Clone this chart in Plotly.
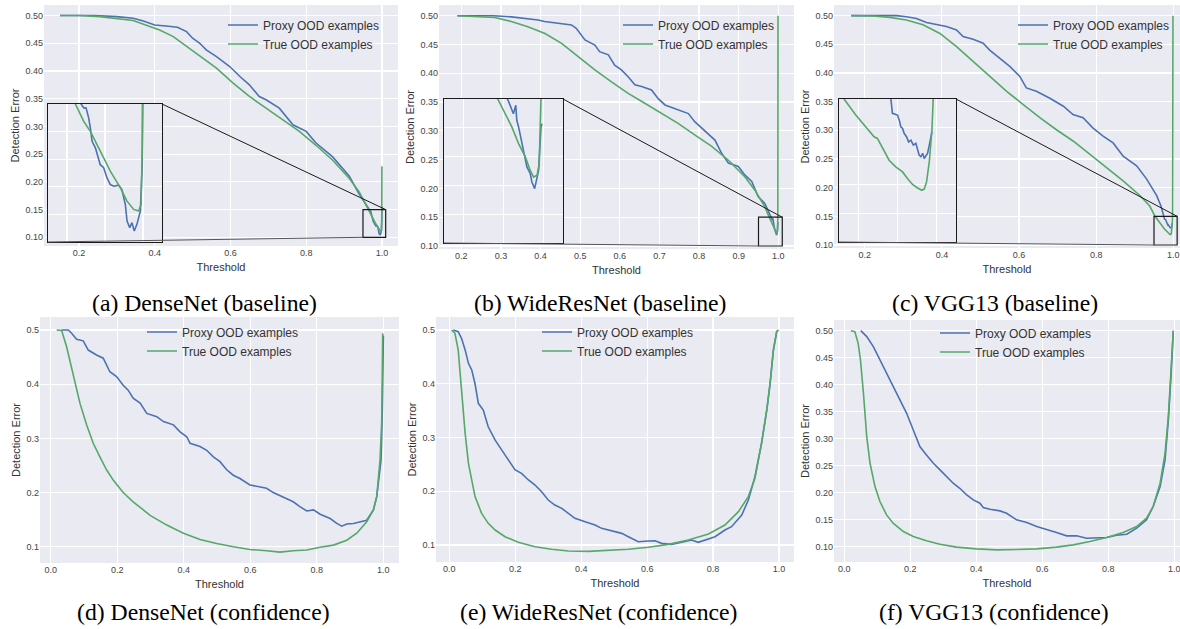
import plotly.graph_objects as go

W, H = 1180, 629
BLUE = "#4C72B0"
GREEN = "#55A868"
BG = "#EAEAF2"
SANS = "Liberation Sans"
SERIF = "Liberation Serif"

SERIES_NAMES = ["Proxy OOD examples", "True OOD examples"]
CAPTIONS = ["(a) DenseNet (baseline)", "(b) WideResNet (baseline)", "(c) VGG13 (baseline)",
            "(d) DenseNet (confidence)", "(e) WideResNet (confidence)", "(f) VGG13 (confidence)"]
X_TITLE = "Threshold"
Y_TITLE = "Detection Error"

# ---------------- (a) DenseNet baseline ----------------
a_proxy_x = [0.15, 0.24, 0.30, 0.343, 0.37, 0.40, 0.43, 0.46, 0.484, 0.50, 0.519, 0.536, 0.563, 0.598,
             0.625, 0.65, 0.676, 0.694, 0.729, 0.765, 0.80, 0.826, 0.870, 0.914, 0.94, 0.9674, 0.9688,
             0.970, 0.9714, 0.9723, 0.9732, 0.975, 0.9758, 0.9775, 0.9793, 0.9802, 0.981, 0.9828,
             0.9846, 0.9872, 0.9889, 0.9907, 0.9916, 0.993, 0.9942, 0.9954, 0.9968, 0.9986, 0.9996, 1.0]
a_proxy_y = [0.5, 0.5, 0.498, 0.495, 0.49, 0.483, 0.481, 0.479, 0.471, 0.459, 0.45, 0.438, 0.426, 0.408,
             0.39, 0.375, 0.354, 0.348, 0.333, 0.303, 0.291, 0.27, 0.245, 0.21, 0.178, 0.150, 0.1486,
             0.1486, 0.145, 0.1413, 0.1365, 0.134, 0.1323, 0.128, 0.1269, 0.1245, 0.1233, 0.1208,
             0.1202, 0.1206, 0.119, 0.1136, 0.1076, 0.1052, 0.107, 0.104, 0.1064, 0.1112, 0.128, 0.155]
a_true_x = [0.15, 0.2, 0.255, 0.299, 0.343, 0.387, 0.413, 0.449, 0.484, 0.519, 0.563, 0.607, 0.65, 0.694,
            0.738, 0.782, 0.826, 0.870, 0.914, 0.94, 0.9644, 0.9688, 0.9723, 0.9775, 0.9828, 0.9881,
            0.9916, 0.9951, 0.9977, 0.999, 0.9996, 1.0]
a_true_y = [0.5, 0.5, 0.498, 0.495, 0.491, 0.48, 0.474, 0.462, 0.444, 0.426, 0.405, 0.378, 0.354, 0.333,
            0.312, 0.291, 0.266, 0.239, 0.206, 0.182, 0.15, 0.1437, 0.1401, 0.1329, 0.1257, 0.1196,
            0.1148, 0.1118, 0.1112, 0.1136, 0.134, 0.228]

# ---------------- (b) WideResNet baseline ----------------
b_proxy_x = [0.19, 0.28, 0.326, 0.368, 0.394, 0.41, 0.453, 0.478, 0.49, 0.5, 0.512, 0.537, 0.549, 0.571,
             0.587, 0.604, 0.621, 0.638, 0.655, 0.68, 0.697, 0.714, 0.739, 0.773, 0.789, 0.815, 0.84,
             0.857, 0.874, 0.899, 0.916, 0.933, 0.949, 0.966, 0.979, 0.982, 0.983, 0.985, 0.9862,
             0.9867, 0.9876, 0.9893, 0.991, 0.9918, 0.9935, 0.9943, 0.9957, 0.9963, 0.9977, 0.9989, 0.9994]
b_proxy_y = [0.5, 0.5, 0.498, 0.495, 0.4925, 0.49, 0.4855, 0.484, 0.478, 0.469, 0.458, 0.449, 0.4375,
             0.432, 0.414, 0.406, 0.394, 0.38, 0.377, 0.371, 0.356, 0.345, 0.339, 0.33, 0.316, 0.299,
             0.284, 0.261, 0.244, 0.238, 0.223, 0.212, 0.186, 0.174, 0.153, 0.150, 0.1484, 0.1449,
             0.1478, 0.1426, 0.1403, 0.1345, 0.1287, 0.1264, 0.1241, 0.1212, 0.1189, 0.1212, 0.1252,
             0.1403, 0.1414]
b_true_x = [0.19, 0.242, 0.284, 0.326, 0.368, 0.411, 0.453, 0.495, 0.537, 0.579, 0.621, 0.663, 0.705,
            0.747, 0.789, 0.832, 0.874, 0.916, 0.941, 0.966, 0.9771, 0.9808, 0.9842, 0.9876, 0.991,
            0.9935, 0.9952, 0.9969, 0.998, 0.9989, 0.9993]
b_true_y = [0.5, 0.498, 0.497, 0.49, 0.481, 0.469, 0.452, 0.429, 0.406, 0.385, 0.365, 0.348, 0.33,
            0.313, 0.293, 0.273, 0.249, 0.22, 0.197, 0.168, 0.15, 0.1449, 0.1403, 0.1345, 0.1299,
            0.1252, 0.1229, 0.1235, 0.1275, 0.15, 0.5]

# ---------------- (c) VGG13 baseline ----------------
c_proxy_x = [0.165, 0.282, 0.308, 0.334, 0.36, 0.386, 0.412, 0.438, 0.455, 0.481, 0.507, 0.524, 0.55,
             0.576, 0.602, 0.619, 0.645, 0.68, 0.715, 0.74, 0.766, 0.792, 0.818, 0.844, 0.87, 0.905,
             0.931, 0.957, 0.968, 0.9766, 0.9774, 0.98, 0.9809, 0.9817, 0.9826, 0.9834, 0.9846, 0.9857,
             0.9869, 0.9881, 0.9894, 0.9903, 0.9911, 0.992, 0.9929, 0.9937, 0.9946, 0.9954, 0.9963, 0.9977]
c_proxy_y = [0.5, 0.5, 0.498, 0.495, 0.488, 0.484, 0.481, 0.475, 0.4635, 0.459, 0.452, 0.44, 0.426,
             0.4115, 0.394, 0.374, 0.368, 0.356, 0.342, 0.3275, 0.322, 0.304, 0.29, 0.278, 0.255, 0.238,
             0.215, 0.186, 0.168, 0.15, 0.145, 0.1444, 0.1426, 0.1403, 0.1397, 0.138, 0.1368, 0.135,
             0.1356, 0.1339, 0.1345, 0.1321, 0.1304, 0.1298, 0.131, 0.1292, 0.1304, 0.131, 0.1339, 0.1386]
c_true_x = [0.165, 0.222, 0.265, 0.308, 0.351, 0.395, 0.438, 0.481, 0.524, 0.568, 0.611, 0.654, 0.697,
            0.741, 0.784, 0.827, 0.87, 0.914, 0.939, 0.9526, 0.9586, 0.9637, 0.968, 0.9697, 0.974,
            0.9757, 0.9791, 0.9826, 0.9851, 0.9877, 0.9903, 0.9925, 0.9937, 0.9949, 0.9963, 0.9977,
            0.9983, 0.9992]
c_true_y = [0.5, 0.4995, 0.497, 0.4925, 0.484, 0.469, 0.446, 0.42, 0.394, 0.368, 0.345, 0.322, 0.301,
            0.281, 0.258, 0.235, 0.212, 0.186, 0.168, 0.15, 0.1444, 0.1403, 0.1368, 0.1362, 0.1304,
            0.1286, 0.1263, 0.1245, 0.1222, 0.1201, 0.1189, 0.1181, 0.1185, 0.121, 0.128, 0.1397,
            0.15, 0.5]

# ---------------- (d) DenseNet confidence ----------------
d_proxy_x = [0.033, 0.053, 0.063, 0.078, 0.098, 0.113, 0.138, 0.158, 0.178, 0.198, 0.218, 0.233, 0.248,
             0.269, 0.289, 0.319, 0.339, 0.369, 0.389, 0.409, 0.419, 0.449, 0.469, 0.489, 0.509, 0.529,
             0.549, 0.569, 0.599, 0.629, 0.649, 0.669, 0.699, 0.729, 0.749, 0.77, 0.79, 0.81, 0.84,
             0.86, 0.875, 0.89, 0.91, 0.93, 0.95, 0.97, 0.98, 0.993, 0.997, 1.0]
d_proxy_y = [0.5, 0.5, 0.494, 0.483, 0.48, 0.463, 0.454, 0.448, 0.423, 0.414, 0.398, 0.389, 0.374,
             0.365, 0.346, 0.34, 0.331, 0.325, 0.312, 0.303, 0.291, 0.285, 0.278, 0.266, 0.257, 0.242,
             0.232, 0.226, 0.214, 0.211, 0.208, 0.2, 0.192, 0.183, 0.174, 0.166, 0.168, 0.16, 0.152,
             0.143, 0.138, 0.142, 0.143, 0.146, 0.149, 0.168, 0.192, 0.26, 0.35, 0.49]
d_true_x = [0.018, 0.033, 0.048, 0.068, 0.088, 0.108, 0.128, 0.148, 0.168, 0.188, 0.218, 0.248, 0.299,
            0.349, 0.399, 0.449, 0.499, 0.549, 0.599, 0.649, 0.689, 0.729, 0.77, 0.81, 0.85, 0.89,
            0.92, 0.95, 0.97, 0.98, 0.99, 0.995, 0.998]
d_true_y = [0.5, 0.499, 0.469, 0.414, 0.365, 0.325, 0.291, 0.266, 0.242, 0.223, 0.2, 0.183, 0.158,
            0.14, 0.125, 0.1135, 0.106, 0.1, 0.095, 0.0926, 0.09, 0.0926, 0.094, 0.099, 0.103, 0.112,
            0.125, 0.146, 0.168, 0.192, 0.26, 0.33, 0.494]

# ---------------- (e) WideResNet confidence ----------------
e_proxy_x = [0.012, 0.027, 0.037, 0.048, 0.058, 0.068, 0.078, 0.088, 0.103, 0.118, 0.139, 0.159, 0.179,
             0.199, 0.219, 0.24, 0.26, 0.28, 0.3, 0.32, 0.341, 0.361, 0.381, 0.412, 0.442, 0.462, 0.492,
             0.523, 0.543, 0.573, 0.604, 0.624, 0.644, 0.674, 0.705, 0.735, 0.755, 0.776, 0.806, 0.836,
             0.856, 0.887, 0.907, 0.927, 0.947, 0.963, 0.973, 0.983, 0.993, 0.998]
e_proxy_y = [0.5, 0.497, 0.4845, 0.463, 0.438, 0.4256, 0.4, 0.3636, 0.351, 0.32, 0.295, 0.277, 0.258,
             0.24, 0.2333, 0.221, 0.2116, 0.1992, 0.1837, 0.1744, 0.1682, 0.159, 0.1496, 0.1434, 0.1372,
             0.131, 0.1267, 0.1217, 0.1155, 0.1062, 0.1074, 0.108, 0.1031, 0.1012, 0.105, 0.1093, 0.105,
             0.1093, 0.1155, 0.1279, 0.1341, 0.1558, 0.1837, 0.2271, 0.2891, 0.3512, 0.4008, 0.4628,
             0.4969, 0.5]
e_true_x = [0.007, 0.017, 0.027, 0.037, 0.048, 0.058, 0.078, 0.098, 0.118, 0.139, 0.169, 0.209, 0.26,
            0.31, 0.361, 0.422, 0.482, 0.543, 0.604, 0.664, 0.725, 0.786, 0.836, 0.877, 0.907, 0.927,
            0.947, 0.963, 0.973, 0.983, 0.993, 0.998]
e_true_y = [0.5, 0.494, 0.4628, 0.3822, 0.3078, 0.2519, 0.19, 0.1589, 0.1403, 0.1279, 0.1155, 0.105,
            0.0969, 0.092, 0.0888, 0.0882, 0.0895, 0.092, 0.0957, 0.1012, 0.1093, 0.1205, 0.1372, 0.162,
            0.19, 0.224, 0.2891, 0.3512, 0.4008, 0.4628, 0.497, 0.5]

# ---------------- (f) VGG13 confidence ----------------
f_proxy_x = [0.05, 0.068, 0.088, 0.108, 0.128, 0.148, 0.169, 0.189, 0.209, 0.229, 0.249, 0.27, 0.29,
             0.31, 0.33, 0.35, 0.371, 0.391, 0.411, 0.421, 0.441, 0.472, 0.492, 0.522, 0.553, 0.583,
             0.613, 0.643, 0.674, 0.704, 0.734, 0.765, 0.795, 0.825, 0.856, 0.886, 0.916, 0.936, 0.957,
             0.972, 0.982, 0.99, 0.997]
f_proxy_y = [0.5, 0.489, 0.4704, 0.4457, 0.421, 0.3963, 0.3716, 0.3469, 0.316, 0.2852, 0.2698, 0.2543,
             0.242, 0.2296, 0.2173, 0.208, 0.1957, 0.1864, 0.1802, 0.1722, 0.1691, 0.166, 0.1617, 0.1494,
             0.1444, 0.137, 0.1321, 0.1259, 0.1198, 0.1198, 0.1154, 0.1167, 0.1167, 0.121, 0.1228, 0.134,
             0.1494, 0.1741, 0.2111, 0.2605, 0.3346, 0.4148, 0.5]
f_true_x = [0.02, 0.032, 0.042, 0.049, 0.058, 0.068, 0.078, 0.093, 0.108, 0.128, 0.148, 0.179, 0.209,
            0.249, 0.29, 0.34, 0.401, 0.462, 0.522, 0.583, 0.643, 0.694, 0.744, 0.795, 0.845, 0.886,
            0.916, 0.936, 0.957, 0.972, 0.982, 0.99, 0.997]
f_true_y = [0.5, 0.498, 0.4765, 0.4457, 0.384, 0.3037, 0.2543, 0.2111, 0.1833, 0.1586, 0.1432, 0.1278,
            0.1185, 0.1105, 0.1043, 0.0988, 0.0957, 0.0938, 0.0944, 0.0957, 0.0988, 0.1031, 0.1093,
            0.1167, 0.1259, 0.137, 0.1525, 0.1741, 0.2173, 0.2728, 0.3407, 0.4148, 0.5]

# axis tick values
x_ticks = [[0.2, 0.4, 0.6, 0.8, 1.0],
           [0.2, 0.3, 0.4, 0.5, 0.6, 0.7, 0.8, 0.9, 1.0],
           [0.2, 0.4, 0.6, 0.8, 1.0],
           [0.0, 0.2, 0.4, 0.6, 0.8, 1.0],
           [0.0, 0.2, 0.4, 0.6, 0.8, 1.0],
           [0.0, 0.2, 0.4, 0.6, 0.8, 1.0]]
y_ticks = [[0.10, 0.15, 0.20, 0.25, 0.30, 0.35, 0.40, 0.45, 0.50]] * 3 + \
          [[0.1, 0.2, 0.3, 0.4, 0.5]] * 2 + \
          [[0.10, 0.15, 0.20, 0.25, 0.30, 0.35, 0.40, 0.45, 0.50]]
y_fmt = [".2f", ".2f", ".2f", ".1f", ".1f", ".2f"]

series = [(a_proxy_x, a_proxy_y, a_true_x, a_true_y),
          (b_proxy_x, b_proxy_y, b_true_x, b_true_y),
          (c_proxy_x, c_proxy_y, c_true_x, c_true_y),
          (d_proxy_x, d_proxy_y, d_true_x, d_true_y),
          (e_proxy_x, e_proxy_y, e_true_x, e_true_y),
          (f_proxy_x, f_proxy_y, f_true_x, f_true_y)]

# ---------------- layout geometry (pixels) ----------------
# main plot areas: (left, right, top, bottom)
boxes = [(44, 398, 5, 246), (439, 794, 5, 249), (834, 1180, 5, 248),
         (40, 399, 317, 563), (436, 794, 317, 562), (834, 1180, 320, 562)]
x_ranges = [[0.1075, 1.0425], [0.1436, 1.0396], [0.1203, 1.0174],
            [-0.032, 1.047], [-0.0404, 1.0455], [-0.0312, 1.0173]]
y_ranges = [[0.0843, 0.519], [0.0948, 0.5186], [0.0948, 0.5186],
            [0.070, 0.524], [0.0684, 0.5242], [0.0713, 0.5198]]
# inset boxes for first row (left, right, top, bottom) and zoom region
inset_boxes = [(48, 162, 104, 242), (444, 563, 99, 243), (839, 956, 99, 242)]
zoom_x = [0.95, 1.01]
zoom_y = [0.10, 0.15]
legend_pos = [(223, 10.5), (618, 10.5), (1013, 10.5), (142, 317.5), (537, 317.5), (935, 318.5)]
caption_pos = [(204, 303), (600, 303), (994.5, 303), (203.5, 612), (598.6, 612), (994, 612)]


def xdom(l, r):
    return [l / W, r / W]


def ydom(t, b):
    return [1 - b / H, 1 - t / H]


fig = go.Figure()
layout = dict(width=W, height=H, autosize=False, margin=dict(l=0, r=0, t=0, b=0),
              paper_bgcolor="white", plot_bgcolor=BG, hovermode=False, shapes=[], annotations=[])

tickfont = dict(family=SANS, size=9, color="#444")
titlefont = dict(family=SANS, size=11, color="#333")

for i in range(6):
    n = i + 1
    sfx = "" if n == 1 else str(n)
    px, py, tx, ty = series[i]
    leg = "legend" if n == 1 else "legend%d" % n
    fig.add_trace(go.Scatter(x=px, y=py, mode="lines", name=SERIES_NAMES[0],
                             line=dict(color=BLUE, width=1.6), xaxis="x" + sfx, yaxis="y" + sfx,
                             legend=leg))
    fig.add_trace(go.Scatter(x=tx, y=ty, mode="lines", name=SERIES_NAMES[1],
                             line=dict(color=GREEN, width=1.6), xaxis="x" + sfx, yaxis="y" + sfx,
                             legend=leg))
    l, r, t, b = boxes[i]
    layout["xaxis" + sfx] = dict(domain=xdom(l, r), range=x_ranges[i], anchor="y" + sfx,
                                 tickvals=x_ticks[i], tickformat=".1f", ticks="", showline=False,
                                 zeroline=False, showgrid=True, gridcolor="white", gridwidth=1.2,
                                 tickfont=tickfont, automargin=False, ticklabeloverflow="allow",
                                 title=dict(text=X_TITLE, font=titlefont, standoff=6))
    layout["yaxis" + sfx] = dict(domain=ydom(t, b), range=y_ranges[i], anchor="x" + sfx,
                                 tickvals=y_ticks[i], tickformat=y_fmt[i], ticks="", showline=False,
                                 zeroline=False, showgrid=True, gridcolor="white", gridwidth=1.2,
                                 tickfont=tickfont, automargin=False, ticklabeloverflow="allow",
                                 title=dict(text=Y_TITLE, font=titlefont, standoff=3))
    lx, ly = legend_pos[i]
    layout[leg] = dict(x=lx / W, y=1 - ly / H, xanchor="left", yanchor="top",
                       bgcolor="rgba(0,0,0,0)", borderwidth=0, font=dict(family=SANS, size=12, color="#333"),
                       itemwidth=30, tracegroupgap=0)
    cx, cy = caption_pos[i]
    layout["annotations"].append(dict(text=CAPTIONS[i], x=cx / W, y=1 - cy / H, xref="paper",
                                      yref="paper", xanchor="center", yanchor="middle",
                                      showarrow=False, font=dict(family=SERIF, size=23.7, color="black")))

# insets (zoomed views) on the baseline panels
for j in range(3):
    n = 7 + j
    sfx = str(n)
    main_sfx = "" if j == 0 else str(j + 1)
    px, py, tx, ty = series[j]
    fig.add_trace(go.Scatter(x=px, y=py, mode="lines", line=dict(color=BLUE, width=1.6),
                             xaxis="x" + sfx, yaxis="y" + sfx, showlegend=False))
    fig.add_trace(go.Scatter(x=tx, y=ty, mode="lines", line=dict(color=GREEN, width=1.6),
                             xaxis="x" + sfx, yaxis="y" + sfx, showlegend=False))
    il, ir, it, ib = inset_boxes[j]
    layout["xaxis" + sfx] = dict(domain=xdom(il, ir), range=zoom_x, anchor="y" + sfx,
                                 showticklabels=False, ticks="", dtick=0.02, tick0=0.96,
                                 showgrid=True, gridcolor="white", gridwidth=1.2, zeroline=False,
                                 showline=True, mirror=True, linecolor="#1a1a1a", linewidth=1.2)
    layout["yaxis" + sfx] = dict(domain=ydom(it, ib), range=zoom_y, anchor="x" + sfx,
                                 showticklabels=False, ticks="", dtick=0.01, tick0=0.10,
                                 showgrid=True, gridcolor="white", gridwidth=1.2, zeroline=False,
                                 showline=True, mirror=True, linecolor="#1a1a1a", linewidth=1.2)
    # rectangle marking the zoomed region in the parent axes
    xr, yr = "x" + main_sfx, "y" + main_sfx
    layout["shapes"].append(dict(type="rect", xref=xr, yref=yr, x0=zoom_x[0], x1=zoom_x[1],
                                 y0=zoom_y[0], y1=zoom_y[1], line=dict(color="#1a1a1a", width=1.2),
                                 fillcolor="rgba(0,0,0,0)", layer="above"))
    # connector lines: inset corners expressed in the parent axes' data coordinates
    l, r, t, b = boxes[j]
    X0, X1 = x_ranges[j]
    Y0, Y1 = y_ranges[j]

    def to_dx(p):
        return X0 + (p - l) / (r - l) * (X1 - X0)

    def to_dy(p):
        return Y0 + (b - p) / (b - t) * (Y1 - Y0)

    layout["shapes"].append(dict(type="line", xref=xr, yref=yr, x0=to_dx(ir), y0=to_dy(it),
                                 x1=zoom_x[1], y1=zoom_y[1], line=dict(color="#1a1a1a", width=1),
                                 layer="above"))
    layout["shapes"].append(dict(type="line", xref=xr, yref=yr, x0=to_dx(il), y0=to_dy(ib),
                                 x1=zoom_x[0], y1=zoom_y[0], line=dict(color="#555", width=1),
                                 layer="above"))

fig.update_layout(**layout)
fig.write_html("out.html", config={"displayModeBar": False, "staticPlot": True},
               post_script="document.body.style.margin='0';document.body.style.overflow='hidden';")
